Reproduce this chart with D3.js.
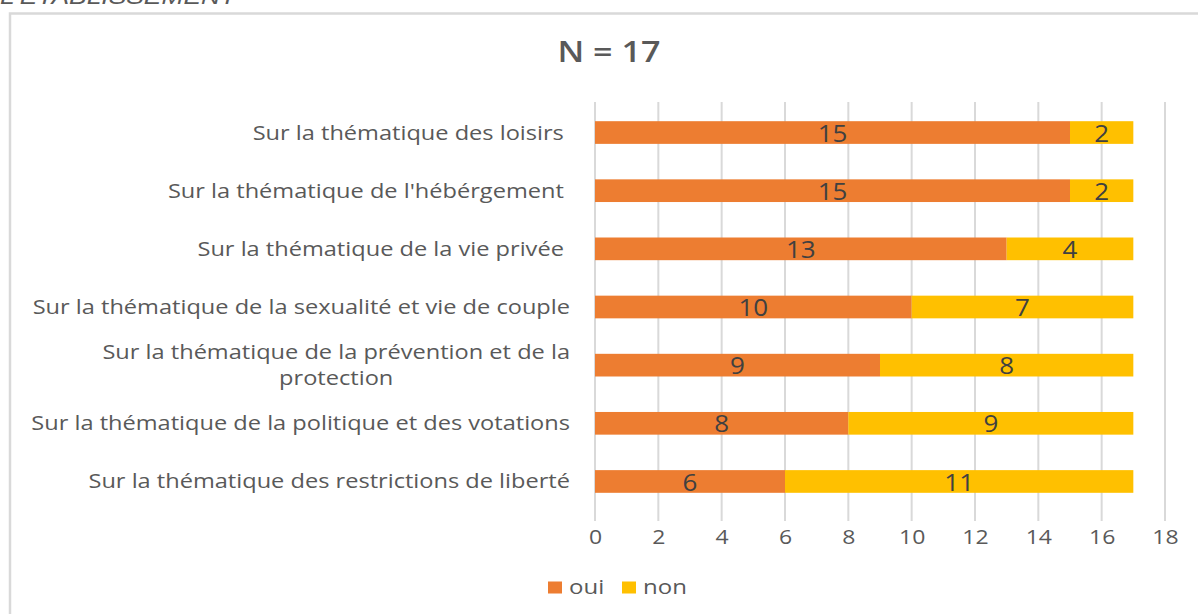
<!DOCTYPE html>
<html><head><meta charset="utf-8">
<script src="https://cdn.jsdelivr.net/npm/d3@7"></script>
<style>body{margin:0;background:#fff}svg{display:block}</style>
</head><body>
<svg id="c" width="1198" height="614"></svg>
<script>
const categories = [
  "Sur la thématique des loisirs ",
  "Sur la thématique de l'hébérgement ",
  "Sur la thématique de la vie privée ",
  "Sur la thématique de la sexualité et vie de couple",
  "Sur la thématique de la prévention et de la protection",
  "Sur la thématique de la politique et des votations",
  "Sur la thématique des restrictions de liberté"
];
const oui = [15, 15, 13, 10, 9, 8, 6];
const non = [2, 2, 4, 7, 8, 9, 11];
const seriesNames = ["oui", "non"];
const colors = ["#ED7D31", "#FFC000"];
const xTicks = [0, 2, 4, 6, 8, 10, 12, 14, 16, 18];
const title = "N = 17";
const header = "L'ÉTABLISSEMENT";

const svg = d3.select("#c");
const font = "'Open Sans', sans-serif";
const K = 1.18; // horizontal stretch of the reference

function stext(parent, x, y, str, opts) {
  const g = parent.append("g").attr("transform", `translate(${x},${y}) scale(${opts.k || K},1)`);
  const t = g.append("text").attr("x", 0).attr("y", 0)
    .attr("font-family", opts.family || font)
    .attr("font-size", opts.size)
    .attr("fill", opts.fill || "#595959")
    .attr("text-anchor", opts.anchor || "start")
    .attr("dy", opts.dy == null ? "0.35em" : opts.dy)
    .style("white-space", "pre")
    .text(str);
  if (opts.weight) t.attr("font-weight", opts.weight);
  if (opts.italic) t.attr("font-style", "italic");
  return t;
}

stext(svg, 0, 4, header, {size: 22, family: "'Liberation Sans', sans-serif", italic: true, dy: 0, k: 1.2});

svg.append("rect").attr("x", 10).attr("y", 13.5).attr("width", 1300).attr("height", 700)
  .attr("fill", "none").attr("stroke", "#D9D9D9").attr("stroke-width", 2.5);

stext(svg, 609, 52, title, {size: 28, anchor: "middle", weight: 600, k: 1.22});

const x = d3.scaleLinear().domain([0, 18]).range([595, 1165]);
const y = d3.scaleBand().domain(categories).range([102, 512]).paddingInner(0.61).paddingOuter(0.33);

// gridlines
svg.append("g").selectAll("line").data(xTicks).join("line")
  .attr("x1", d => x(d)).attr("x2", d => x(d)).attr("y1", 102).attr("y2", 521)
  .attr("stroke", "#D9D9D9").attr("stroke-width", 2);

// x axis labels
const xAxis = d3.axisBottom(x).tickValues(xTicks).tickSize(0).tickPadding(0).tickFormat(() => "");
const gx = svg.append("g").attr("transform", "translate(0,537)").call(xAxis);
gx.select(".domain").remove();
gx.selectAll(".tick").each(function(d) {
  stext(d3.select(this), 0, 0, String(d), {size: 20, anchor: "middle", k: 1.15});
});

// bars
const data = categories.map((c, i) => ({c, vals: [oui[i], non[i]]}));
const segs = [];
data.forEach(d => { let acc = 0; d.vals.forEach((v, k) => { segs.push({c: d.c, k, x0: acc, x1: acc + v, v}); acc += v; }); });
svg.append("g").selectAll("rect").data(segs).join("rect")
  .attr("x", d => x(d.x0)).attr("width", d => x(d.x1) - x(d.x0))
  .attr("y", d => y(d.c)).attr("height", y.bandwidth())
  .attr("fill", d => colors[d.k]);
const vl = svg.append("g");
segs.forEach(d => {
  stext(vl, (x(d.x0) + x(d.x1)) / 2, y(d.c) + y.bandwidth() / 2 + 1, String(d.v),
    {size: 23, anchor: "middle", fill: "#404040", k: 1.13});
});

// category labels
const lab = svg.append("g");
categories.forEach(c => {
  const cy = y(c) + y.bandwidth() / 2;
  if (c.length > 52) {
    const first = "Sur la thématique de la prévention et de la";
    const rest = c.slice(first.length + 1);
    const t1 = stext(lab, 570, cy - 13, first, {size: 20, anchor: "end"});
    const w = t1.node().getComputedTextLength() * K;
    stext(lab, 570 - w / 2, cy + 13, rest, {size: 20, anchor: "middle"});
  } else {
    stext(lab, 570, cy, c, {size: 20, anchor: "end"});
  }
});

// legend
const lg = svg.append("g");
const lx = [548, 622];
seriesNames.forEach((s, i) => {
  lg.append("rect").attr("x", lx[i]).attr("y", 581.5).attr("width", 14).attr("height", 12).attr("fill", colors[i]);
  stext(lg, lx[i] + 21, 587, s, {size: 20, k: 1.2});
});
</script>
</body></html>
